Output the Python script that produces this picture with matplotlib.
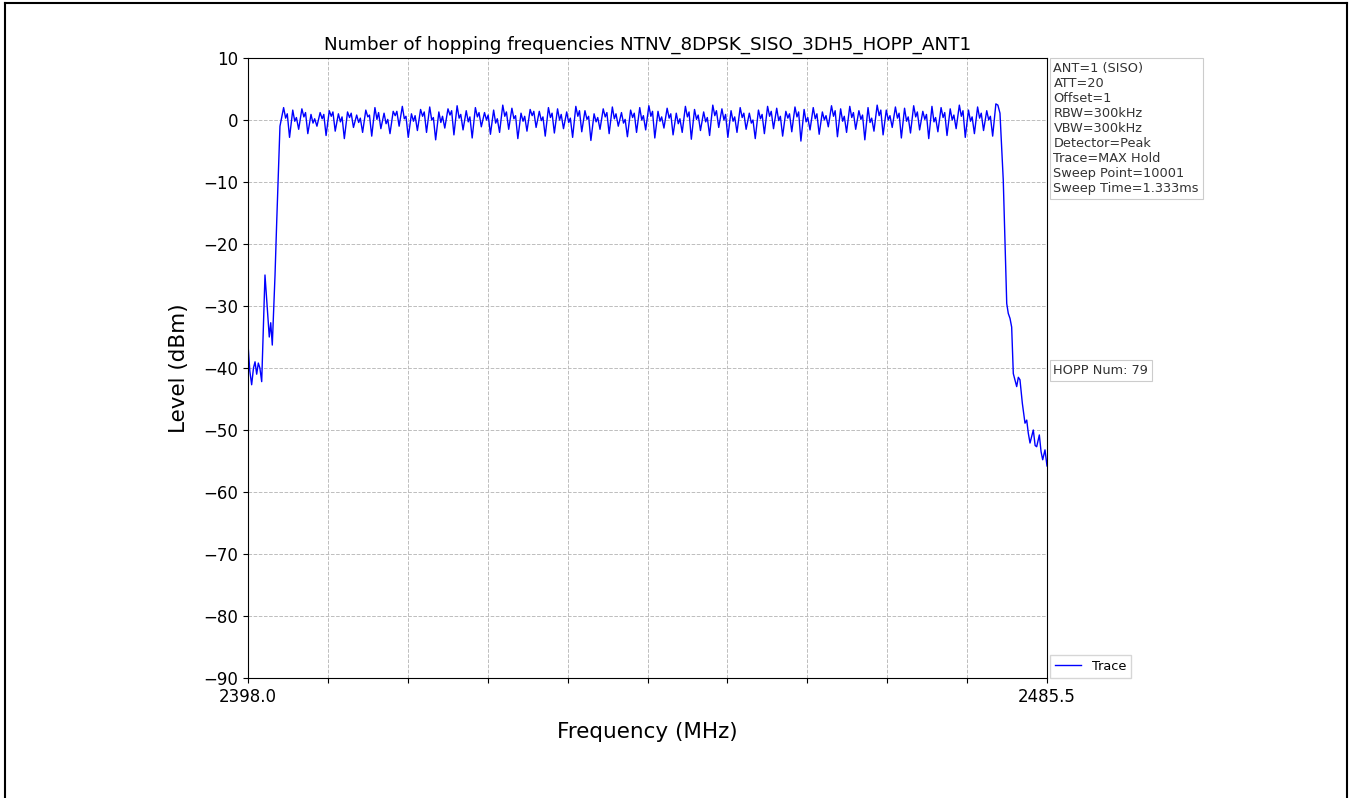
import numpy as np
import matplotlib
matplotlib.use("Agg")
import matplotlib.pyplot as plt
from matplotlib.lines import Line2D

# band edges of the sweep
f_start, f_stop = 2398.0, 2485.5

# skirt below the first channel (MHz, dBm)
low_f = [2398.0, 2398.03, 2398.2, 2398.4, 2398.6, 2398.77, 2398.95, 2399.13, 2399.3,
         2399.5, 2399.86, 2400.1, 2400.33, 2400.49, 2400.66, 2400.96, 2401.14, 2401.5]
low_l = [-38.0, -36.8, -40.5, -42.7, -40.0, -39.0, -41.0, -39.2, -40.0,
         -42.2, -25.0, -30.0, -35.0, -32.7, -36.3, -25.0, -16.6, -1.0]

# 79 hopping channels, 2402..2480 MHz: peak, shoulder, second bump, dip
ch_freq = np.arange(2402, 2481)
ch_peak = [2.0, 1.6, 1.8, 0.9, 1.2, 1.5, 1.0, 1.3, 0.8, 1.6,
           2.0, 1.1, 1.4, 2.2, 1.0, 1.7, 2.1, 1.3, 1.8, 2.3,
           1.5, 2.0, 1.2, 1.6, 2.4, 1.9, 1.1, 1.7, 1.4, 2.0,
           1.8, 1.3, 2.2, 1.5, 1.0, 1.8, 2.1, 1.2, 1.6, 2.0,
           2.3, 1.4, 1.9, 1.1, 2.2, 1.7, 1.3, 2.4, 1.8, 1.5,
           2.0, 1.1, 1.6, 2.2, 1.9, 1.4, 2.1, 1.7, 2.0, 1.3,
           2.3, 1.8, 2.2, 1.5, 2.0, 2.4, 1.6, 2.1, 1.9, 2.3,
           1.4, 2.2, 2.0, 1.8, 2.4, 1.6, 2.1, 1.5, 2.6]
ch_mid = [0.3, -0.2, 0.5, -0.5, 0.2, 0.6, -0.3, 0.4, -0.4, 0.5,
          0.1, -0.6, 0.7, 0.2, -0.2, 0.6, 0.0, -0.4, 0.8, 0.3,
          -0.3, 0.5, 0.0, -0.5, 0.6, 0.2, -0.2, 0.7, -0.1, 0.4,
          0.0, -0.4, 0.6, 0.1, -0.3, 0.5, 0.2, -0.5, 0.4, 0.0,
          0.6, -0.2, 0.3, -0.6, 0.5, 0.1, -0.3, 0.7, 0.0, -0.2,
          0.4, -0.5, 0.2, 0.6, -0.1, 0.3, 0.5, -0.3, 0.2, 0.0,
          0.6, -0.2, 0.4, 0.1, -0.4, 0.7, 0.0, 0.3, -0.2, 0.5,
          0.1, -0.3, 0.4, 0.0, 0.6, -0.2, 0.3, 0.0, 2.4]
ch_bump = [1.0, 0.4, 1.2, 0.2, 0.9, 1.3, 0.5, 1.1, 0.3, 0.8,
           1.2, 0.1, 1.4, 0.6, 0.7, 1.3, 0.4, 0.6, 1.5, 0.9,
           0.5, 1.2, 0.8, 0.2, 1.3, 0.7, 0.6, 1.4, 0.5, 1.1,
           0.9, 0.3, 1.5, 0.6, 0.4, 1.2, 1.0, 0.1, 1.1, 0.7,
           1.4, 0.5, 1.0, 0.2, 1.3, 0.8, 0.4, 1.5, 0.9, 0.5,
           1.1, 0.0, 0.9, 1.4, 0.6, 1.0, 1.3, 0.4, 1.0, 0.7,
           1.5, 0.6, 1.2, 0.8, 0.3, 1.6, 0.7, 1.1, 0.5, 1.3,
           0.9, 0.4, 1.2, 0.8, 1.5, 0.5, 1.1, 0.6]
ch_dip = [-2.8, -1.5, -2.2, -1.0, -2.5, -1.8, -3.0, -1.2, -2.0, -2.6,
          -1.4, -2.2, -1.0, -2.8, -1.7, -2.0, -3.2, -1.3, -2.4, -1.6,
          -2.9, -1.1, -2.3, -2.0, -1.5, -3.0, -1.8, -1.2, -2.6, -2.1,
          -1.4, -2.8, -1.9, -3.3, -1.5, -2.2, -1.0, -2.7, -2.0, -1.6,
          -2.9, -1.3, -2.4, -2.0, -3.1, -1.7, -2.5, -1.2, -2.8, -2.0,
          -1.5, -3.0, -2.2, -1.4, -2.6, -1.9, -3.4, -1.6, -2.3, -1.1,
          -2.7, -2.0, -1.5, -3.2, -1.8, -2.4, -1.2, -2.9, -2.1, -1.6,
          -3.0, -1.9, -2.5, -1.4, -2.8, -2.2, -1.7, -2.6]

# skirt above the last channel
high_f = [2480.35, 2480.71, 2481.09, 2481.26, 2481.45, 2481.63, 2481.81, 2482.0,
          2482.18, 2482.36, 2482.54, 2482.8, 2483.09, 2483.28, 2483.45, 2483.64,
          2484.0, 2484.2, 2484.37, 2484.66, 2484.85, 2485.03, 2485.28, 2485.5]
high_l = [1.1, -9.7, -29.6, -31.2, -32.0, -33.4, -40.9, -42.0,
          -43.0, -41.5, -41.9, -45.7, -48.9, -48.4, -50.5, -52.1,
          -50.0, -52.5, -52.7, -50.8, -53.5, -54.8, -53.2, -55.8]

info_lines = ["ANT=1 (SISO)", "ATT=20", "Offset=1", "RBW=300kHz", "VBW=300kHz",
              "Detector=Peak", "Trace=MAX Hold", "Sweep Point=10001",
              "Sweep Time=1.333ms"]
hopp_num = 79

# build the trace channel by channel
fx, fy = list(low_f), list(low_l)
for i, f in enumerate(ch_freq):
    fx.append(f - 0.1)
    fy.append(ch_peak[i])
    fx.append(f + 0.12)
    fy.append(ch_mid[i])
    if i < len(ch_dip):
        fx.append(f + 0.3)
        fy.append(ch_bump[i])
        fx.append(f + 0.55)
        fy.append(ch_dip[i])
fx += high_f
fy += high_l

fig = plt.figure(figsize=(13.51, 7.98), dpi=100)
ax = fig.add_axes([248 / 1351, 1 - 678 / 798, 799 / 1351, 620 / 798])
ax.plot(fx, fy, color="blue", lw=1.0, label="Trace")

ax.set_xlim(f_start, f_stop)
ax.set_ylim(-90, 10)
xt = np.linspace(f_start, f_stop, 11)
ax.set_xticks(xt)
ax.set_xticklabels(["%.1f" % f_start] + [""] * 9 + ["%.1f" % f_stop])
ax.set_yticks(np.arange(-90, 11, 10))
ax.tick_params(labelsize=12)
ax.grid(True, ls="--", color="#bdbdbd", lw=0.7)
ax.set_xlabel("Frequency (MHz)", fontsize=15.5, labelpad=12)
ax.set_ylabel("Level (dBm)", fontsize=15.5, labelpad=10)
ax.set_title("Number of hopping frequencies NTNV_8DPSK_SISO_3DH5_HOPP_ANT1", fontsize=13.2)

box = dict(boxstyle="square,pad=0.3", fc="white", ec="#cccccc", lw=0.8)
ax.text(1.008, 0.993, "\n".join(info_lines), transform=ax.transAxes, fontsize=9.3,
        va="top", ha="left", color="#333333", bbox=box, linespacing=1.2)
ax.text(1.008, 0.496, "HOPP Num: %d" % hopp_num, transform=ax.transAxes, fontsize=9.3,
        va="center", ha="left", color="#333333", bbox=box)
ax.legend(loc="lower left", bbox_to_anchor=(1.004, 0.0), borderaxespad=0.0,
          fontsize=9.3, fancybox=False, edgecolor="#cccccc")

# thin frame round the picture
fig.add_artist(Line2D([5 / 1351, 5 / 1351], [0, 1 - 3 / 798], color="black", lw=1.5))
fig.add_artist(Line2D([5 / 1351, 1347 / 1351], [1 - 3 / 798, 1 - 3 / 798], color="black", lw=1.5))
fig.add_artist(Line2D([1347 / 1351, 1347 / 1351], [0, 1 - 3 / 798], color="black", lw=1.5))

fig.savefig("out.png", dpi=100)
